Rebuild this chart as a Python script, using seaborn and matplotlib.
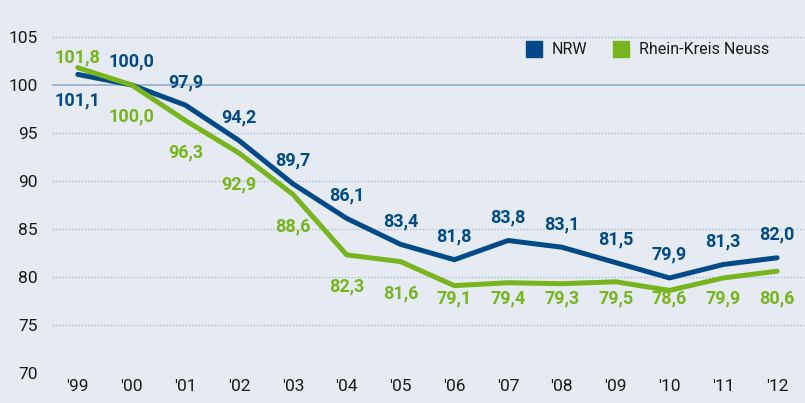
import pandas as pd
import seaborn as sns
import matplotlib.pyplot as plt
from matplotlib.patches import Patch

# Daten
jahre = ["'99", "'00", "'01", "'02", "'03", "'04", "'05", "'06", "'07", "'08", "'09", "'10", "'11", "'12"]
nrw = [101.1, 100.0, 97.9, 94.2, 89.7, 86.1, 83.4, 81.8, 83.8, 83.1, 81.5, 79.9, 81.3, 82.0]
neuss = [101.8, 100.0, 96.3, 92.9, 88.6, 82.3, 81.6, 79.1, 79.4, 79.3, 79.5, 78.6, 79.9, 80.6]
serien = ['NRW', 'Rhein-Kreis Neuss']

blau = '#004b87'
gruen = '#78b41e'
bg = '#e6ebf3'

df = pd.DataFrame({'idx': list(range(len(jahre))) * 2,
                   'wert': nrw + neuss,
                   'serie': [serien[0]] * len(jahre) + [serien[1]] * len(jahre)})

sns.set_style('white')
plt.rcParams['font.family'] = ['Roboto', 'DejaVu Sans']

fig = plt.figure(figsize=(8.05, 4.03), dpi=100)
fig.patch.set_facecolor(bg)
ax = fig.add_axes([52 / 805, 30 / 403, 753 / 805, 373 / 403])
ax.set_facecolor(bg)

# Gitterlinien
for y in [70, 75, 80, 85, 90, 95, 105]:
    ax.axhline(y, color='#a3b2ca', lw=0.9, ls=(0, (1, 1.6)), zorder=0)
ax.axhline(100, color='#9fb2cc', lw=1.3, zorder=0)

sns.lineplot(data=df, x='idx', y='wert', hue='serie', palette=[blau, gruen],
             lw=3.6, ax=ax, legend=False, zorder=3)

# Beschriftungen
for i, (b, g) in enumerate(zip(nrw, neuss)):
    fb = f'{b:.1f}'.replace('.', ',')
    fg = f'{g:.1f}'.replace('.', ',')
    if i == 0:
        yb, yg = b - 2.7, g + 1.1
    else:
        yb, yg = b + 2.4, max(g - 3.3, 77.8)
    ax.text(i, yb, fb, color=blau, fontsize=13, fontweight='bold', ha='center', va='center')
    ax.text(i, yg, fg, color=gruen, fontsize=13, fontweight='bold', ha='center', va='center')

ax.set_xlim(-0.48, 13.52)
ax.set_ylim(70, 108.85)
ax.set_xticks(range(len(jahre)))
ax.set_xticklabels(jahre)
ax.set_yticks([70, 75, 80, 85, 90, 95, 100, 105])
ax.tick_params(axis='both', length=0, labelsize=12.5, labelcolor='#1a1a1a')
ax.tick_params(axis='y', pad=10)
ax.tick_params(axis='x', pad=4)
ax.set_xlabel('')
ax.set_ylabel('')
sns.despine(ax=ax, left=True, bottom=True)

handles = [Patch(color=blau, label=serien[0]), Patch(color=gruen, label=serien[1])]
leg = ax.legend(handles=handles, loc='center right', bbox_to_anchor=(0.952, 0.869), ncol=2,
                frameon=False, fontsize=11.5, handlelength=1.0, handleheight=1.2,
                handletextpad=0.6, columnspacing=1.6, borderpad=0, borderaxespad=0)
for t in leg.get_texts():
    t.set_color('#1a1a1a')

fig.savefig('out.png', dpi=100, facecolor=bg)
